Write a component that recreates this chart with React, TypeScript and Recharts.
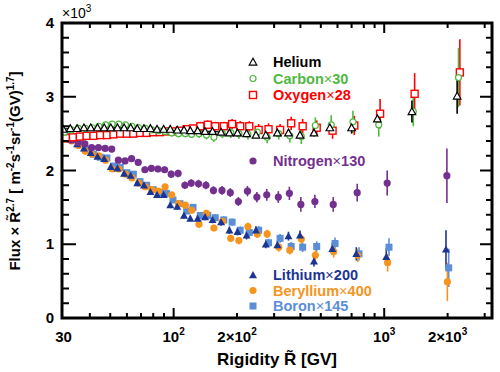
import React from "react";
import { ScatterChart, Scatter, XAxis, YAxis, ErrorBar } from "recharts";

// Bin centres R~ [GV]; He, C, O share one binning, N, Li, Be, B another above 464 GV
const heavyRigidity = [
  29.9, 32.3, 34.8, 37.5, 40.4, 43.5, 46.8, 50.3, 54.1, 58.2, 62.5, 67.2, 72.3,
  77.6, 83.4, 89.7, 96.4, 104, 112, 120, 130, 141, 153, 168, 184, 201, 222, 246,
  274, 311, 351, 398, 464, 552, 700, 928, 1354, 2220,
];
const lightRigidity = [
  29.9, 32.3, 34.8, 37.5, 40.4, 43.5, 46.8, 50.3, 54.1, 58.2, 62.5, 67.2, 72.3,
  77.6, 83.4, 89.7, 96.4, 104, 112, 120, 130, 141, 153, 168, 184, 201, 222, 246,
  274, 311, 351, 398, 464, 567, 737, 1023, 1965,
];

// Flux x R^2.7 (x10^3), already scaled
const helium = [
  2.56, 2.57, 2.57, 2.58, 2.58, 2.58, 2.58, 2.58, 2.58, 2.58, 2.58, 2.57, 2.57,
  2.57, 2.56, 2.56, 2.56, 2.55, 2.55, 2.54, 2.54, 2.53, 2.53, 2.52, 2.51, 2.51,
  2.5, 2.48, 2.48, 2.51, 2.51, 2.48, 2.51, 2.58, 2.58, 2.7, 2.8, 3.01,
];
const carbon = [
  2.52, 2.55, 2.57, 2.57, 2.58, 2.6, 2.62, 2.63, 2.63, 2.62, 2.6, 2.58, 2.57,
  2.55, 2.54, 2.53, 2.51, 2.5, 2.5, 2.49, 2.5, 2.48, 2.45, 2.5, 2.51, 2.5, 2.49,
  2.52, 2.45, 2.5, 2.47, 2.46, 2.61, 2.62, 2.66, 2.62, 2.8, 3.26,
];
const oxygen = [
  2.44, 2.45, 2.46, 2.47, 2.47, 2.48, 2.48, 2.49, 2.5, 2.5, 2.5, 2.51, 2.51,
  2.52, 2.52, 2.53, 2.53, 2.54, 2.56, 2.57, 2.6, 2.62, 2.6, 2.6, 2.63, 2.6, 2.6,
  2.55, 2.56, 2.55, 2.64, 2.6, 2.58, 2.54, 2.61, 2.77, 3.04, 3.33,
];
const nitrogen = [
  2.44, 2.41, 2.38, 2.36, 2.31, 2.31, 2.3, 2.29, 2.14, 2.13, 2.16, 2.11, 2.01,
  2.03, 2.02, 2.01, 1.95, 1.96, 1.8, 1.83, 1.82, 1.8, 1.73, 1.73, 1.7, 1.58,
  1.72, 1.64, 1.67, 1.64, 1.69, 1.54, 1.58, 1.54, 1.7, 1.83, 1.93,
];
const lithium = [
  2.5, 2.42, 2.36, 2.3, 2.24, 2.19, 2.16, 2.05, 2.03, 1.96, 1.93, 1.83, 1.8,
  1.71, 1.67, 1.67, 1.53, 1.51, 1.39, 1.35, 1.35, 1.37, 1.33, 1.3, 1.19, 1.17,
  1.12, 1.19, 1.0, 0.99, 1.11, 1.12, 0.77, 0.94, 0.87, 0.83, 0.93,
];
const beryllium = [
  2.42, 2.4, 2.34, 2.26, 2.22, 2.2, 2.14, 2.02, 2.02, 1.95, 1.9, 1.83, 1.78,
  1.74, 1.72, 1.78, 1.67, 1.55, 1.53, 1.46, 1.27, 1.42, 1.22, 1.31, 1.08, 1.05,
  1.24, 1.14, 1.14, 0.96, 0.92, 1.07, 0.85, 0.9, 0.85, 0.75, 0.49,
];
const boron = [
  2.48, 2.43, 2.36, 2.29, 2.22, 2.18, 2.17, 2.06, 2.04, 1.97, 1.95, 1.85, 1.8,
  1.74, 1.7, 1.69, 1.6, 1.55, 1.45, 1.5, 1.39, 1.39, 1.36, 1.33, 1.3, 1.19,
  1.16, 1.19, 1.02, 1.08, 0.97, 0.96, 0.97, 1.01, 0.87, 0.96, 0.68,
];

// total errors (half length of the bars)
const errHelium = [
  0.02, 0.02, 0.02, 0.02, 0.02, 0.02, 0.02, 0.02, 0.02, 0.02, 0.02, 0.02, 0.02,
  0.02, 0.02, 0.02, 0.02, 0.02, 0.02, 0.02, 0.025, 0.025, 0.025, 0.03, 0.03,
  0.03, 0.03, 0.035, 0.035, 0.04, 0.04, 0.05, 0.05, 0.06, 0.08, 0.12, 0.15, 0.24,
];
const errCarbon = [
  0.04, 0.04, 0.04, 0.04, 0.04, 0.04, 0.04, 0.04, 0.04, 0.04, 0.045, 0.045,
  0.045, 0.045, 0.045, 0.045, 0.05, 0.05, 0.05, 0.05, 0.06, 0.06, 0.06, 0.06,
  0.07, 0.07, 0.07, 0.08, 0.08, 0.08, 0.09, 0.1, 0.11, 0.13, 0.15, 0.16, 0.2, 0.4,
];
const errOxygen = [
  0.04, 0.04, 0.04, 0.04, 0.04, 0.04, 0.04, 0.04, 0.04, 0.04, 0.045, 0.045,
  0.045, 0.045, 0.045, 0.045, 0.05, 0.05, 0.05, 0.05, 0.06, 0.06, 0.06, 0.06,
  0.07, 0.07, 0.07, 0.08, 0.08, 0.08, 0.09, 0.1, 0.1, 0.11, 0.13, 0.2, 0.28, 0.45,
];
const errNitrogen = [
  0.04, 0.04, 0.04, 0.04, 0.04, 0.04, 0.04, 0.04, 0.04, 0.04, 0.045, 0.045,
  0.045, 0.045, 0.045, 0.045, 0.05, 0.05, 0.05, 0.05, 0.055, 0.055, 0.055, 0.06,
  0.06, 0.06, 0.07, 0.07, 0.08, 0.08, 0.09, 0.1, 0.09, 0.1, 0.12, 0.17, 0.37,
];
const errSecondary = [
  0.03, 0.03, 0.03, 0.03, 0.03, 0.03, 0.03, 0.03, 0.03, 0.03, 0.035, 0.035,
  0.035, 0.035, 0.035, 0.035, 0.04, 0.04, 0.04, 0.04, 0.045, 0.045, 0.045, 0.05,
  0.05, 0.05, 0.055, 0.055, 0.055, 0.06, 0.06, 0.065, 0.07, 0.08, 0.09, 0.12, 0.26,
];

const xTicks = [30, 40, 50, 60, 70, 80, 90, 100, 200, 300, 400, 500, 600, 700, 800, 900, 1000, 2000, 3000];
const xLabelValues = [30, 100, 200, 1000, 2000];
const xLabelBase = ["30", "10", "2×10", "10", "2×10"];
const xLabelExp = ["", "2", "2", "3", "3"];
const yTicks = [0, 0.2, 0.4, 0.6, 0.8, 1, 1.2, 1.4, 1.6, 1.8, 2, 2.2, 2.4, 2.6, 2.8, 3, 3.2, 3.4, 3.6, 3.8, 4];

const PLOT = { left: 62, right: 492, top: 23, bottom: 318 };
const FONT = '"Liberation Sans", Arial, Helvetica, sans-serif';

const COLORS = {
  he: "#000000",
  c: "#4fb83f",
  o: "#ff0000",
  n: "#73308f",
  li: "#1b3593",
  be: "#f7941d",
  b: "#5b8ed6",
};

type Marker = "openTriangle" | "openCircle" | "openSquare" | "circle" | "triangle" | "square";

const tri = (cx: number, cy: number, s: number) =>
  `${cx},${cy - s} ${cx - s},${cy + s * 0.8} ${cx + s},${cy + s * 0.8}`;

const drawMarker = (m: Marker, cx: number, cy: number, color: string) => {
  switch (m) {
    case "openTriangle":
      return <polygon points={tri(cx, cy, 3.8)} fill="#fff" stroke={color} strokeWidth={1.2} />;
    case "openCircle":
      return <circle cx={cx} cy={cy} r={3} fill="#fff" stroke={color} strokeWidth={1.2} />;
    case "openSquare":
      return <rect x={cx - 3.5} y={cy - 3.5} width={7} height={7} fill="#fff" stroke={color} strokeWidth={1.4} />;
    case "circle":
      return <circle cx={cx} cy={cy} r={3.6} fill={color} />;
    case "triangle":
      return <polygon points={tri(cx, cy, 4)} fill={color} />;
    default:
      return <rect x={cx - 3.5} y={cy - 3.5} width={7} height={7} fill={color} />;
  }
};

const toPoints = (rig: number[], vals: number[], errs: number[], shift: number) =>
  rig.map((r, i) => ({ r: r * shift, v: vals[i], e: errs[i] }));

// drawing order: first is at the back
const series = [
  { key: "b", color: COLORS.b, marker: "square" as Marker, data: toPoints(lightRigidity, boron, errSecondary, 1.03) },
  { key: "be", color: COLORS.be, marker: "circle" as Marker, data: toPoints(lightRigidity, beryllium, errSecondary, 1.015) },
  { key: "li", color: COLORS.li, marker: "triangle" as Marker, data: toPoints(lightRigidity, lithium, errSecondary, 1) },
  { key: "n", color: COLORS.n, marker: "circle" as Marker, data: toPoints(lightRigidity, nitrogen, errNitrogen, 1.01) },
  { key: "o", color: COLORS.o, marker: "openSquare" as Marker, data: toPoints(heavyRigidity, oxygen, errOxygen, 1.03) },
  { key: "c", color: COLORS.c, marker: "openCircle" as Marker, data: toPoints(heavyRigidity, carbon, errCarbon, 1.015) },
  { key: "he", color: COLORS.he, marker: "openTriangle" as Marker, data: toPoints(heavyRigidity, helium, errHelium, 1) },
];

const heliumTrend = toPoints(heavyRigidity, helium, errHelium, 1).slice(0, 24);

const legendRows = [
  { name: "Helium", mult: "", color: COLORS.he, marker: "openTriangle" as Marker, y: 62 },
  { name: "Carbon", mult: "30", color: COLORS.c, marker: "openCircle" as Marker, y: 78.5 },
  { name: "Oxygen", mult: "28", color: COLORS.o, marker: "openSquare" as Marker, y: 95 },
  { name: "Nitrogen", mult: "130", color: COLORS.n, marker: "circle" as Marker, y: 161 },
  { name: "Lithium", mult: "200", color: COLORS.li, marker: "triangle" as Marker, y: 275 },
  { name: "Beryllium", mult: "400", color: COLORS.be, marker: "circle" as Marker, y: 290.5 },
  { name: "Boron", mult: "145", color: COLORS.b, marker: "square" as Marker, y: 306 },
];

const renderXTick = (props: any) => {
  const { x, payload } = props;
  const v = payload.value;
  const major = v === 100 || v === 1000;
  const len = major ? 10 : 5;
  const li = xLabelValues.indexOf(v);
  return (
    <g>
      {v !== 30 && (
        <>
          <line x1={x} x2={x} y1={PLOT.bottom} y2={PLOT.bottom - len} stroke="#000" strokeWidth={2} />
          <line x1={x} x2={x} y1={PLOT.top} y2={PLOT.top + len} stroke="#000" strokeWidth={2} />
        </>
      )}
      {li >= 0 && (
        <text x={x} y={342} textAnchor="middle" fontFamily={FONT} fontWeight="bold" fontSize={15} fill="#000">
          <tspan>{xLabelBase[li]}</tspan>
          {xLabelExp[li] && (
            <tspan dy={-7} fontSize={10}>
              {xLabelExp[li]}
            </tspan>
          )}
        </text>
      )}
    </g>
  );
};

const renderYTick = (props: any) => {
  const { y, payload } = props;
  const v = payload.value;
  const major = Math.abs(v - Math.round(v)) < 1e-6;
  return (
    <g>
      <line x1={PLOT.left} x2={PLOT.left + (major ? 14 : 7)} y1={y} y2={y} stroke="#000" strokeWidth={2} />
      <line x1={PLOT.right - (major ? 12 : 6)} x2={PLOT.right} y1={y} y2={y} stroke="#000" strokeWidth={2} />
      {major && (
        <text x={54} y={y + 5} textAnchor="end" fontFamily={FONT} fontWeight="bold" fontSize={15} fill="#000">
          {Math.round(v)}
        </text>
      )}
    </g>
  );
};

const App = () => {
  return (
    <div style={{ position: "absolute", left: 0, top: 0, width: 500, height: 372, background: "#fff" }}>
      <ScatterChart width={500} height={372} margin={{ top: 23, right: 8, bottom: 0, left: 0 }}>
        <XAxis
          dataKey="r"
          type="number"
          scale="log"
          domain={[29.5, 3250]}
          allowDataOverflow
          ticks={xTicks}
          interval={0}
          tick={renderXTick}
          tickLine={false}
          axisLine={false}
          height={54}
        />
        <YAxis
          dataKey="v"
          type="number"
          domain={[0, 4]}
          ticks={yTicks}
          interval={0}
          tick={renderYTick}
          tickLine={false}
          axisLine={false}
          width={62}
        />
        <Scatter
          data={heliumTrend}
          line={{ stroke: "#000", strokeWidth: 1.2 }}
          shape={() => <g />}
          isAnimationActive={false}
        />
        {series.map((s) => (
          <Scatter
            key={s.key}
            data={s.data}
            isAnimationActive={false}
            shape={(p: any) => drawMarker(s.marker, p.cx, p.cy, s.color)}
          >
            <ErrorBar dataKey="e" direction="y" width={0} stroke={s.color} strokeWidth={1.6} />
          </Scatter>
        ))}
      </ScatterChart>
      <svg
        width={500}
        height={372}
        style={{ position: "absolute", left: 0, top: 0, pointerEvents: "none" }}
      >
        <rect
          x={PLOT.left}
          y={PLOT.top}
          width={PLOT.right - PLOT.left}
          height={PLOT.bottom - PLOT.top}
          fill="none"
          stroke="#000"
          strokeWidth={3}
        />
        <text x={62} y={18} fontFamily={FONT} fontSize={14} fill="#000">
          ×10
          <tspan dy={-6} fontSize={10}>
            3
          </tspan>
        </text>
        <text x={217} y={365} fontFamily={FONT} fontWeight="bold" fontSize={17} fill="#000">
          Rigidity R̃ [GV]
        </text>
        <text
          transform="translate(20,171) rotate(-90)"
          textAnchor="middle"
          fontFamily={FONT}
          fontWeight="bold"
          fontSize={15}
          fill="#000"
        >
          <tspan>Flux × R̃</tspan>
          <tspan dy={-6} fontSize={10}>2.7</tspan>
          <tspan dy={6}> [ m</tspan>
          <tspan dy={-6} fontSize={10}>-2</tspan>
          <tspan dy={6}>s</tspan>
          <tspan dy={-6} fontSize={10}>-1</tspan>
          <tspan dy={6}>sr</tspan>
          <tspan dy={-6} fontSize={10}>-1</tspan>
          <tspan dy={6}>(GV)</tspan>
          <tspan dy={-6} fontSize={10}>1.7</tspan>
          <tspan dy={6}>]</tspan>
        </text>
        {legendRows.map((l) => (
          <g key={l.name}>
            {drawMarker(l.marker, 253, l.y, l.color)}
            <text x={273} y={l.y + 5} fontFamily={FONT} fontWeight="bold" fontSize={14.5} fill={l.color}>
              {l.name}
              {l.mult && <tspan fontWeight="normal">×</tspan>}
              {l.mult}
            </text>
          </g>
        ))}
      </svg>
    </div>
  );
};

export default App;
